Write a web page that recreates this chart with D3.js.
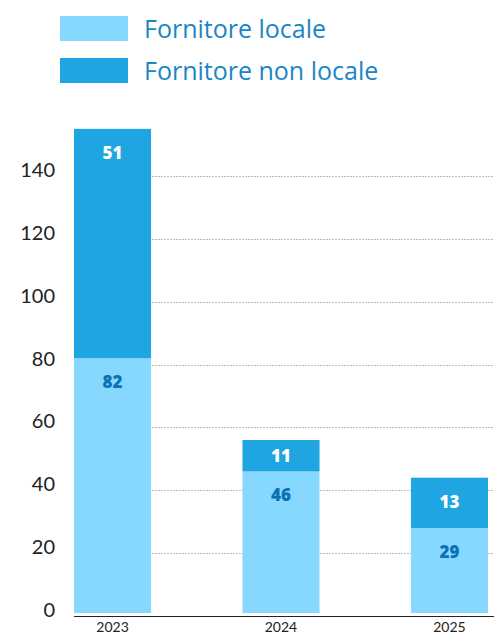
<!DOCTYPE html>
<html>
<head>
<meta charset="utf-8">
<script src="https://cdn.jsdelivr.net/npm/d3@7"></script>
<style>
  html, body { margin: 0; padding: 0; background: #fff; }
  svg { display: block; }
</style>
</head>
<body>
<div id="chart"></div>
<script>
// ---- data ----
const years = ["2023", "2024", "2025"];
const seriesNames = ["Fornitore locale", "Fornitore non locale"];
// segment heights as drawn in the reference
const localValues = [82, 46, 28];
const nonLocalValues = [73, 10, 16];
// printed data labels
const localLabels = ["82", "46", "29"];
const nonLocalLabels = ["51", "11", "13"];
const yTicks = [0, 20, 40, 60, 80, 100, 120, 140];

// ---- layout ----
const W = 494, H = 634;
const colors = ["#86d8ff", "#1ea5e2"];
const labelColors = ["#0b72b6", "#ffffff"];

const svg = d3.select("#chart").append("svg").attr("width", W).attr("height", H);

const x = d3.scaleBand().domain(years).range([74, 488]).paddingInner(0.5426).paddingOuter(0);
const y = d3.scaleLinear().domain([0, 140]).range([616, 176]);
const barGap = 3;

// gridlines
svg.append("g").selectAll("line").data(yTicks.filter(d => d > 0)).join("line")
  .attr("x1", 74).attr("x2", W)
  .attr("y1", d => Math.round(y(d)) + 0.5).attr("y2", d => Math.round(y(d)) + 0.5)
  .attr("stroke", "#bdbdbd").attr("stroke-width", 1).attr("stroke-dasharray", "2,1");

// y tick labels
svg.append("g").selectAll("text").data(yTicks).join("text")
  .attr("x", 55).attr("y", d => y(d) + 1)
  .attr("text-anchor", "end")
  .attr("font-family", "Lato, 'Noto Sans', sans-serif")
  .attr("font-size", 20)
  .attr("fill", "#222")
  .text(d => d);

// stacked data
const rows = years.map((yr, i) => ({ year: yr, local: localValues[i], nonlocal: nonLocalValues[i] }));
const stack = d3.stack().keys(["local", "nonlocal"]);
const stacked = stack(rows);
const labelSets = [localLabels, nonLocalLabels];

const layers = svg.append("g").selectAll("g").data(stacked).join("g")
  .attr("fill", (d, i) => colors[i]);

layers.selectAll("rect").data(d => d).join("rect")
  .attr("x", d => x(d.data.year))
  .attr("width", x.bandwidth())
  .attr("y", d => y(d[1]))
  .attr("height", d => (d[0] === 0 ? y(d[0]) - barGap : y(d[0])) - y(d[1]));

// segment labels
stacked.forEach((layer, li) => {
  svg.append("g").selectAll("text").data(layer).join("text")
    .attr("x", d => x(d.data.year) + x.bandwidth() / 2)
    .attr("y", d => {
      const top = y(d[1]);
      const bottom = d[0] === 0 ? y(d[0]) - barGap : y(d[0]);
      return Math.min(top + 24, (top + bottom) / 2) + 6;
    })
    .attr("text-anchor", "middle")
    .attr("font-family", "'Open Sans', 'Noto Sans', sans-serif")
    .attr("font-weight", 800)
    .attr("font-size", 17)
    .attr("fill", labelColors[li])
    .text((d, i) => labelSets[li][i]);
});

// x axis line
svg.append("line")
  .attr("x1", 74).attr("x2", W)
  .attr("y1", 616.5).attr("y2", 616.5)
  .attr("stroke", "#222").attr("stroke-width", 1.2);

// x labels
svg.append("g").selectAll("text").data(years).join("text")
  .attr("x", d => x(d) + x.bandwidth() / 2)
  .attr("y", 632)
  .attr("text-anchor", "middle")
  .attr("font-family", "Lato, 'Noto Sans', sans-serif")
  .attr("font-size", 14)
  .attr("fill", "#222")
  .text(d => d);

// legend
const legend = svg.append("g").selectAll("g").data(seriesNames).join("g")
  .attr("transform", (d, i) => `translate(60, ${16 + i * 42})`);
legend.append("rect").attr("width", 68).attr("height", 25).attr("fill", (d, i) => colors[i]);
legend.append("text")
  .attr("x", 84).attr("y", 22)
  .attr("font-family", "'Open Sans', 'Noto Sans', sans-serif")
  .attr("font-size", 25)
  .attr("fill", "#1a86c6")
  .text(d => d);
</script>
</body>
</html>
